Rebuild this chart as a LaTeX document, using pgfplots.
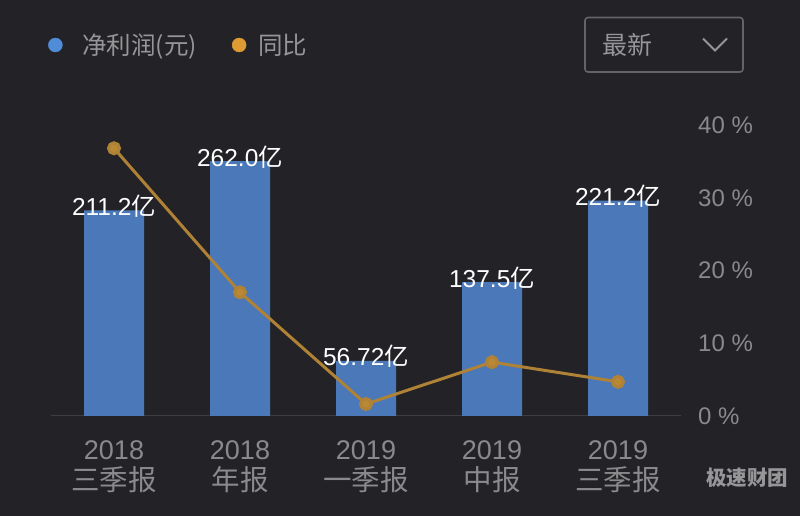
\documentclass[border=0pt]{standalone}
\usepackage{pgfplots}
\pgfplotsset{compat=1.18}
\usepackage{fontspec}
\setmainfont{Liberation Sans}
\newfontfamily\cjk{Noto Sans CJK SC}
\definecolor{bg}{RGB}{35,35,39}
\definecolor{barblue}{RGB}{74,120,184}
\definecolor{gold}{RGB}{176,130,54}
\definecolor{goldmark}{RGB}{186,137,54}
\definecolor{legblue}{RGB}{80,140,215}
\definecolor{leggold}{RGB}{222,155,52}
\definecolor{labelgray}{RGB}{138,138,140}
\definecolor{leggray}{RGB}{150,150,152}
\definecolor{axisgray}{RGB}{62,62,66}
\definecolor{boxgray}{RGB}{100,100,104}
\begin{document}
\begin{tikzpicture}
\useasboundingbox (0pt,0pt) rectangle (800pt,516pt);
\fill[bg] (0pt,0pt) rectangle (800pt,516pt);
\begin{axis}[
  at={(51pt,100pt)}, anchor=south west, scale only axis,
  width=630pt, height=291pt,
  xmin=-0.5, xmax=4.5, ymin=0, ymax=299,
  axis y line=none, axis x line*=bottom,
  x axis line style={draw=axisgray, line width=1pt, -},
  xtick={0,1,2,3,4},
  xticklabels={{2018\\{\cjk\fontsize{28.5}{31}\selectfont 三季报}},{2018\\{\cjk\fontsize{28.5}{31}\selectfont 年报}},{2019\\{\cjk\fontsize{28.5}{31}\selectfont 一季报}},{2019\\{\cjk\fontsize{28.5}{31}\selectfont 中报}},{2019\\{\cjk\fontsize{28.5}{31}\selectfont 三季报}}},
  xticklabel style={align=center, font=\fontsize{27}{31}\selectfont, text=labelgray, inner sep=0pt, yshift=-24pt},
  major tick length=0pt, xtick style={draw=none},
  clip=false,
  legend columns=2,
  legend style={at={(-0.0048,1.2749)}, anchor=west, draw=none, fill=none, inner sep=0pt,
    nodes={inner sep=0pt, text=leggray, font=\cjk\fontsize{24.5}{26}\selectfont},
    /tikz/every odd column/.style={column sep=12pt},
    /tikz/every even column/.style={column sep=35pt}},
]
\addplot[ybar, bar width=60pt, fill=barblue, draw=none, forget plot,
  point meta=explicit symbolic,
  nodes near coords={\pgfplotspointmeta{\cjk 亿}},
  nodes near coords style={anchor=base, yshift=-5pt, text=white, inner sep=0pt, font=\fontsize{24.5}{24}\selectfont}]
  coordinates {(0,211.2) [211.2] (1,262.0) [262.0] (2,56.72) [56.72] (3,137.5) [137.5] (4,221.2) [221.2]};
\addlegendimage{legend image code/.code={\path[draw=none,fill=none] (-7pt,-1pt) rectangle (15pt,1pt); \fill[legblue] (0pt,0pt) circle (7pt);}}
\addlegendentry{净利润(元)}
\addlegendimage{legend image code/.code={\fill[leggold] (0pt,0pt) circle (7pt);}}
\addlegendentry{同比}
\end{axis}
\begin{axis}[
  at={(51pt,100pt)}, anchor=south west, scale only axis,
  width=630pt, height=291pt,
  xmin=-0.5, xmax=4.5, ymin=0, ymax=40,
  axis x line=none, axis y line*=right,
  y axis line style={draw=none},
  ytick={0,10,20,30,40},
  yticklabels={0 \%,10 \%,20 \%,30 \%,40 \%},
  yticklabel style={anchor=west, inner sep=0pt, xshift=17pt, text=labelgray, font=\fontsize{24}{24}\selectfont},
  major tick length=0pt, ytick style={draw=none},
  clip=false,
]
\addplot[gold, line width=3pt, mark=*, mark size=5.5pt, mark options={fill=goldmark, draw=none}]
  coordinates {(0,36.8) (1,17.0) (2,1.65) (3,7.4) (4,4.7)};
\end{axis}
% dropdown box
\draw[boxgray, line width=1.6pt, rounded corners=3pt] (585pt,444pt) rectangle (743pt,498.5pt);
\node[anchor=west, inner sep=0pt, text=leggray, font=\cjk\fontsize{25}{25}\selectfont] at (602pt,471pt) {最新};
\draw[leggray, line width=1.8pt, line join=miter] (703pt,477.5pt) -- (715pt,465.5pt) -- (727pt,477.5pt);
% watermark
\node[anchor=west, inner sep=0pt, text=leggray, font=\cjk\bfseries\fontsize{20.5}{21}\selectfont] at (706pt,38pt) {极速财团};
\end{tikzpicture}
\end{document}
